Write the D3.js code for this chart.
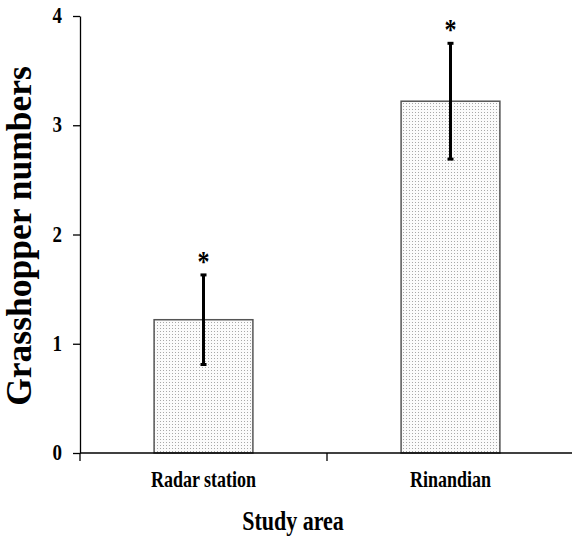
<!DOCTYPE html>
<html>
<head>
<meta charset="utf-8">
<script src="https://cdn.jsdelivr.net/npm/d3@7"></script>
<style>
  body { margin: 0; background: #fff; }
  text { font-family: "Liberation Serif", "Times New Roman", serif; font-weight: bold; fill: #000; }
</style>
</head>
<body>
<div id="chart"></div>
<script>
const sites = ["Radar station", "Rinandian"];
const means = [1.22, 3.22];
const errors = [0.41, 0.53];
const marks = ["*", "*"];
const yTicks = [0, 1, 2, 3, 4];

const width = 572;
const height = 536;
const margin = { top: 16, right: -2, bottom: 83, left: 80 };
const stretch = 1.25; // the source figure's text looks tall and narrow

const svg = d3.select("#chart")
  .append("svg")
  .attr("width", width)
  .attr("height", height);

// dotted fill
const defs = svg.append("defs");
const pat = defs.append("pattern")
  .attr("id", "dots")
  .attr("patternUnits", "userSpaceOnUse")
  .attr("width", 3)
  .attr("height", 3);
pat.append("rect").attr("width", 3).attr("height", 3).attr("fill", "#fbfbfb");
pat.append("rect").attr("x", 1).attr("y", 1).attr("width", 1).attr("height", 1).attr("fill", "#a8a8a8");

const x = d3.scaleBand()
  .domain(sites)
  .range([margin.left, width - margin.right])
  .paddingInner(0.6)
  .paddingOuter(0.3);

const y = d3.scaleLinear()
  .domain([0, 4])
  .range([height - margin.bottom, margin.top]);

// Bars
svg.selectAll(".bar")
  .data(sites)
  .enter()
  .append("rect")
  .attr("class", "bar")
  .attr("x", d => x(d))
  .attr("y", (d, i) => y(means[i]))
  .attr("width", x.bandwidth())
  .attr("height", (d, i) => y(0) - y(means[i]))
  .attr("fill", "url(#dots)")
  .attr("stroke", "#555")
  .attr("stroke-width", 1.5);

// Error bars
const cx = d => x(d) + x.bandwidth() / 2;
svg.selectAll(".err")
  .data(sites)
  .enter()
  .append("line")
  .attr("x1", cx).attr("x2", cx)
  .attr("y1", (d, i) => y(means[i] - errors[i]))
  .attr("y2", (d, i) => y(means[i] + errors[i]))
  .attr("stroke", "#000")
  .attr("stroke-width", 3);

[-1, 1].forEach(s => {
  svg.selectAll(".cap" + s)
    .data(sites)
    .enter()
    .append("line")
    .attr("x1", d => cx(d) - 3).attr("x2", d => cx(d) + 3)
    .attr("y1", (d, i) => y(means[i] + s * errors[i]))
    .attr("y2", (d, i) => y(means[i] + s * errors[i]))
    .attr("stroke", "#000")
    .attr("stroke-width", 3);
});

// Asterisks
svg.selectAll(".star")
  .data(sites)
  .enter()
  .append("text")
  .attr("transform", (d, i) => `translate(${cx(d)},${y(means[i] + errors[i]) - 4}) scale(1,${stretch})`)
  .attr("text-anchor", "middle")
  .style("font-size", "24px")
  .text((d, i) => marks[i]);

// Y axis
const yAxis = svg.append("g")
  .attr("transform", `translate(${margin.left},0)`)
  .call(d3.axisLeft(y).tickValues(yTicks).tickFormat("").tickSize(7).tickSizeOuter(0));
yAxis.selectAll("line, path").attr("stroke", "#000").attr("stroke-width", 1.3);

svg.selectAll(".ylab")
  .data(yTicks)
  .enter()
  .append("text")
  .attr("transform", d => `translate(${margin.left - 18},${y(d) + 7}) scale(1,${stretch})`)
  .attr("text-anchor", "end")
  .style("font-size", "19px")
  .text(d3.format("d"));

// X axis (ticks at band boundaries)
const step = x.step();
const bounds = [margin.left, x(sites[0]) + x.bandwidth() + step * x.paddingInner() / 2];
svg.append("line")
  .attr("x1", margin.left).attr("x2", width)
  .attr("y1", y(0)).attr("y2", y(0))
  .attr("stroke", "#000").attr("stroke-width", 1.3);
svg.selectAll(".xtick")
  .data(bounds)
  .enter()
  .append("line")
  .attr("x1", d => d).attr("x2", d => d)
  .attr("y1", y(0)).attr("y2", y(0) + 8)
  .attr("stroke", "#000").attr("stroke-width", 1.3);

svg.selectAll(".xlab")
  .data(sites)
  .enter()
  .append("text")
  .attr("transform", d => `translate(${cx(d)},${y(0) + 34}) scale(1,${stretch})`)
  .attr("text-anchor", "middle")
  .style("font-size", "18px")
  .text(d => d);

// Axis titles
svg.append("text")
  .attr("transform", `translate(293,530) scale(1,${stretch})`)
  .attr("text-anchor", "middle")
  .style("font-size", "22px")
  .text("Study area");

svg.append("text")
  .attr("transform", `translate(31,236) rotate(-90)`)
  .attr("text-anchor", "middle")
  .style("font-size", "35.5px")
  .text("Grasshopper numbers");
</script>
</body>
</html>
